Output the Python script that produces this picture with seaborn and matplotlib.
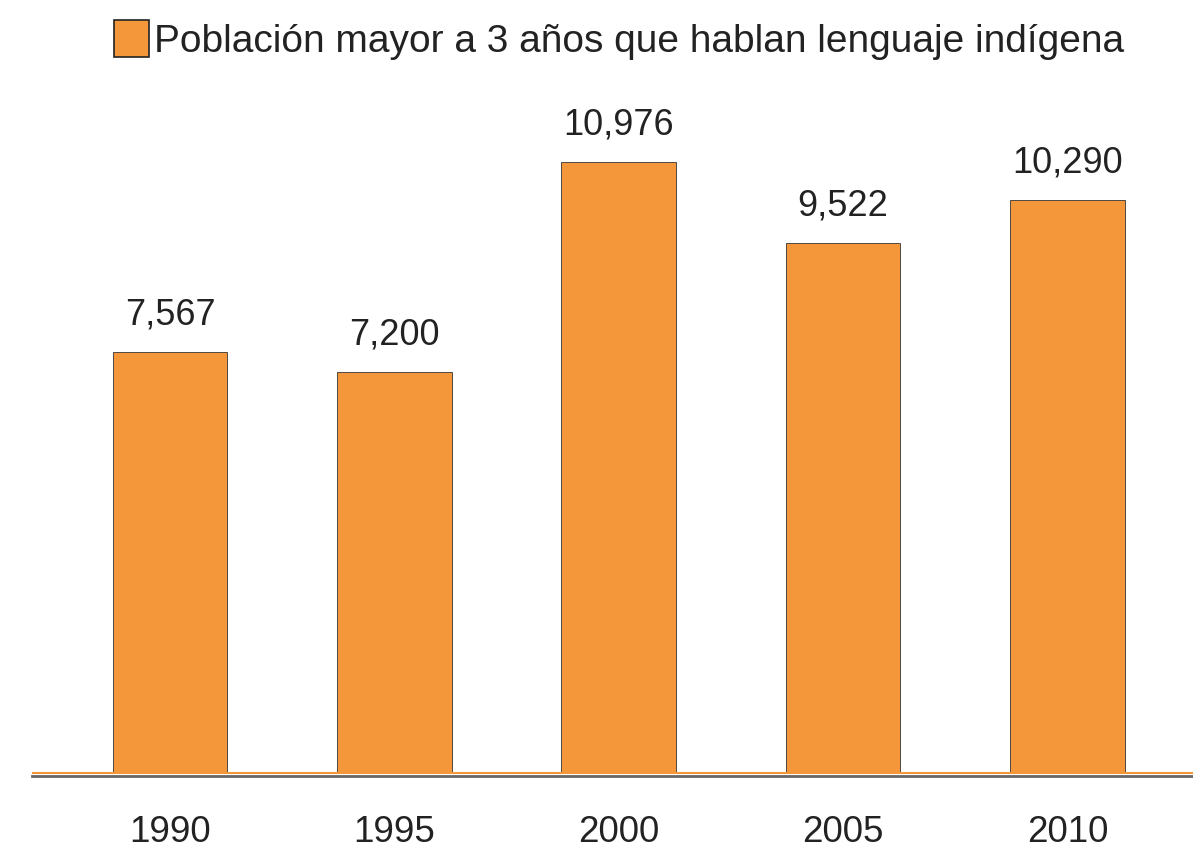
import matplotlib
matplotlib.use("Agg")
import matplotlib.pyplot as plt
import seaborn as sns
import pandas as pd
from matplotlib.patches import Patch

years = ["1990", "1995", "2000", "2005", "2010"]
values = [7567, 7200, 10976, 9522, 10290]
series_name = "Población mayor a 3 años que hablan lenguaje indígena"

sns.set_theme(style="white")
plt.rcParams['font.family'] = ['Liberation Sans', 'DejaVu Sans']

orange = "#F4973A"
text_col = "#222222"

df = pd.DataFrame({"year": years, "value": values})

fig = plt.figure(figsize=(11.93, 8.49), dpi=100)
ax = fig.add_axes([32/1193, 73/849, 1 - 32/1193, (776 - 60)/849])

sns.barplot(data=df, x="year", y="value", color=orange, width=0.51,
            edgecolor="#333333", linewidth=0.6, saturation=1, ax=ax)

px_per_unit = (773 - 162) / 10976.0
ymin = -3 / px_per_unit
ymax = (773 - 60) / px_per_unit
ax.set_ylim(ymin, ymax)
ax.set_xlim(-0.615, 4.56)

ax.bar_label(ax.containers[0], labels=[f"{v:,}" for v in values],
             padding=14, fontsize=26, color=text_col)

ax.axhline(0, color=orange, lw=1.5, zorder=1)
for s in ["top", "right", "left"]:
    ax.spines[s].set_visible(False)
ax.spines["bottom"].set_color("#666666")
ax.spines["bottom"].set_linewidth(2)

ax.set_yticks([])
ax.set_xlabel("")
ax.set_ylabel("")
ax.tick_params(axis="x", length=0, pad=28, labelsize=26.5, labelcolor=text_col)

handle = Patch(facecolor=orange, edgecolor="#222222", linewidth=1.2)
fig.legend([handle], [series_name], loc="center", bbox_to_anchor=(0.519, 0.953),
           frameon=False, fontsize=28, handlelength=0.9, handleheight=1.1,
           handletextpad=0.12, labelcolor=text_col)

fig.savefig("out.png", dpi=100)
